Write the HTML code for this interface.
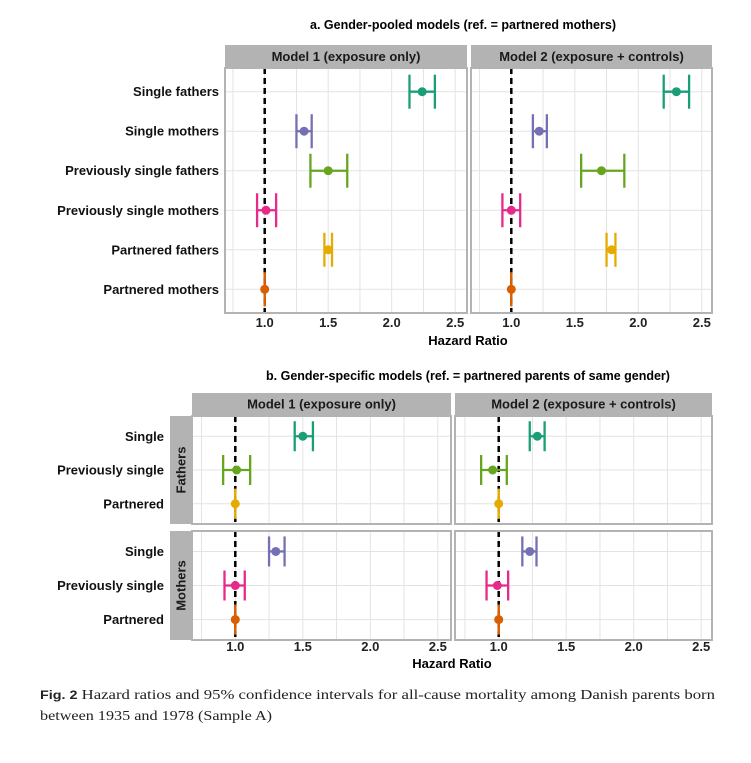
<!DOCTYPE html>
<html><head><meta charset="utf-8"><style>
html,body{margin:0;padding:0;background:#fff;width:751px;height:763px;overflow:hidden}
</style></head><body>
<svg id="fig" width="751" height="763" viewBox="0 0 751 763" xmlns="http://www.w3.org/2000/svg" font-family="Liberation Sans, Arial, sans-serif">
<text x="463" y="29" text-anchor="middle" font-size="12.5" font-weight="bold">a. Gender-pooled models (ref. = partnered mothers)</text>
<text x="468" y="380" text-anchor="middle" font-size="12.5" font-weight="bold">b. Gender-specific models (ref. = partnered parents of same gender)</text>
<text x="468" y="345" text-anchor="middle" font-size="13" font-weight="bold">Hazard Ratio</text>
<text x="452" y="668" text-anchor="middle" font-size="13" font-weight="bold">Hazard Ratio</text>
<text x="40" y="699" style="font-family:'Liberation Serif',serif" font-size="14" textLength="675" lengthAdjust="spacingAndGlyphs" fill="#222"><tspan font-weight="bold" style="font-family:'Liberation Sans',sans-serif" font-size="12">Fig. 2</tspan> Hazard ratios and 95% confidence intervals for all-cause mortality among Danish parents born</text>
<text x="40" y="720" style="font-family:'Liberation Serif',serif" font-size="14" textLength="232" lengthAdjust="spacingAndGlyphs" fill="#222">between 1935 and 1978 (Sample A)</text>
<g id="plots"></g>
</svg>
<script>
// Panel a data
const catsA = ["Single fathers","Single mothers","Previously single fathers","Previously single mothers","Partnered fathers","Partnered mothers"];
const colorsA = ["#1B9E77","#7570B3","#66A61E","#E7298A","#E6AB02","#D95F02"];
const a1Est = [2.24,1.31,1.50,1.01,1.50,1.00];
const a1Lo  = [2.14,1.25,1.36,0.94,1.47,1.00];
const a1Hi  = [2.34,1.37,1.65,1.09,1.53,1.00];
const a2Est = [2.30,1.22,1.71,1.00,1.79,1.00];
const a2Lo  = [2.20,1.17,1.55,0.93,1.75,1.00];
const a2Hi  = [2.40,1.28,1.89,1.07,1.82,1.00];
// Panel b data
const catsB = ["Single","Previously single","Partnered"];
const groupsB = ["Fathers","Mothers"];
const colorsBF = ["#1B9E77","#66A61E","#E6AB02"];
const colorsBM = ["#7570B3","#E7298A","#D95F02"];
const b1FEst = [1.50,1.01,1.00], b1FLo = [1.44,0.91,1.00], b1FHi = [1.575,1.11,1.00];
const b1MEst = [1.30,1.00,1.00], b1MLo = [1.25,0.92,1.00], b1MHi = [1.365,1.07,1.00];
const b2FEst = [1.286,0.955,1.00], b2FLo = [1.23,0.87,1.00], b2FHi = [1.34,1.06,1.00];
const b2MEst = [1.23,0.99,1.00], b2MLo = [1.175,0.91,1.00], b2MHi = [1.28,1.07,1.00];
const xTicks = [1.0,1.5,2.0,2.5];
const xTickLabels = ["1.0","1.5","2.0","2.5"];
const xMinor = [0.75,1.25,1.75,2.25];
const models = ["Model 1 (exposure only)","Model 2 (exposure + controls)"];

const NS="http://www.w3.org/2000/svg";
const root=document.getElementById('plots');
function mk(tag,attrs,parent){const e=document.createElementNS(NS,tag);for(const k in attrs)e.setAttribute(k,attrs[k]);(parent||root).appendChild(e);return e;}
function txt(s,attrs,parent){const e=mk('text',attrs,parent);e.textContent=s;return e;}

function panel(x0,x1,y0,y1,ref1,ppu,n,ests,los,his,cols,cap,name){
  const sx=v=>ref1+(v-1)*ppu;
  const g=mk('g',{});
  
  
  mk('rect',{x:x0,y:y0,width:x1-x0,height:y1-y0,fill:'#fff'},g);
  const step=(y1-y0)/(n-1+1.2);
  const sy=i=>y0+step*(0.6+i);
  xMinor.concat(xTicks).forEach(v=>{const X=sx(v);if(X>x0&&X<x1){const l=mk('line',{x1:X,x2:X,y1:y0,y2:y1,stroke:'#e3e3e3','stroke-width':1},g);}});
  for(let i=0;i<n;i++){const l=mk('line',{x1:x0,x2:x1,y1:sy(i),y2:sy(i),stroke:'#e3e3e3','stroke-width':1},g);}
  const d=mk('line',{x1:sx(1),x2:sx(1),y1:y0,y2:y1,stroke:'#000','stroke-width':2.5,'stroke-dasharray':'6,4'},g);
  
  
  for(let i=0;i<n;i++){
    const y=sy(i),c=cols[i],lo=sx(los[i]),hi=sx(his[i]);
    const eg=mk('g',{stroke:c,'stroke-width':2.3},g);
    
    
    mk('line',{x1:lo,x2:hi,y1:y,y2:y},eg);
    mk('line',{x1:lo,x2:lo,y1:y-cap,y2:y+cap},eg);
    mk('line',{x1:hi,x2:hi,y1:y-cap,y2:y+cap},eg);
    const p=mk('circle',{cx:sx(ests[i]),cy:y,r:4.5,fill:c},g);
    
    
  }
  const b=mk('rect',{x:x0,y:y0,width:x1-x0,height:y1-y0,fill:'none',stroke:'#b3b3b3','stroke-width':2},g);
  
  
  return {sx,sy};
}
function strip(x0,x1,y0,y1,label){
  const r=mk('rect',{x:x0,y:y0,width:x1-x0,height:y1-y0,fill:'#b3b3b3'});
  
  
  const t=txt(label,{x:(x0+x1)/2,y:(y0+y1)/2+4.5,'text-anchor':'middle','font-size':13,'font-weight':'bold',fill:'#1a1a1a'});
  
  
}
function vstrip(x0,x1,y0,y1,label){
  const r=mk('rect',{x:x0,y:y0,width:x1-x0,height:y1-y0,fill:'#b3b3b3'});
  
  
  const cx=(x0+x1)/2+4.5,cy=(y0+y1)/2;
  const t=txt(label,{x:cx,y:cy,'text-anchor':'middle','font-size':13,'font-weight':'bold',fill:'#1a1a1a',transform:`rotate(-90 ${cx} ${cy})`});
  
  
}
function ticks(sx,y){
  xTicks.forEach((v,i)=>{const X=sx(v);const t=txt(xTickLabels[i],{x:X,y:y,'text-anchor':'middle','font-size':13,'font-weight':'bold',fill:'#222'});});
}
function ylabels(cats,sy,xr){
  cats.forEach((c,i)=>{const t=txt(c,{x:xr,y:sy(i)+4.5,'text-anchor':'end','font-size':13,'font-weight':'bold',fill:'#111'});});
}

// Panel a
strip(225,467,45,68,models[0]);
strip(471,712,45,68,models[1]);
const pa1=panel(225,467,68,313,264.7,127,6,a1Est,a1Lo,a1Hi,colorsA,17,'panel-a-model-1');
const pa2=panel(471,712,68,313,511.3,127,6,a2Est,a2Lo,a2Hi,colorsA,17,'panel-a-model-2');
ylabels(catsA,pa1.sy,219);
ticks(pa1.sx,327);ticks(pa2.sx,327);

// Panel b
strip(192,451,393,415,models[0]);
strip(455,712,393,415,models[1]);
vstrip(170,192,416,524,groupsB[0]);
vstrip(170,192,531,640,groupsB[1]);
const pb1f=panel(192,451,416,524,235.3,135,3,b1FEst,b1FLo,b1FHi,colorsBF,15,'panel-b-fathers-model-1');
const pb2f=panel(455,712,416,524,498.7,135,3,b2FEst,b2FLo,b2FHi,colorsBF,15,'panel-b-fathers-model-2');
const pb1m=panel(192,451,531,640,235.3,135,3,b1MEst,b1MLo,b1MHi,colorsBM,15,'panel-b-mothers-model-1');
const pb2m=panel(455,712,531,640,498.7,135,3,b2MEst,b2MLo,b2MHi,colorsBM,15,'panel-b-mothers-model-2');
ylabels(catsB,pb1f.sy,164);
ylabels(catsB,pb1m.sy,164);
ticks(pb1m.sx,651);ticks(pb2m.sx,651);
</script>
</body></html>
